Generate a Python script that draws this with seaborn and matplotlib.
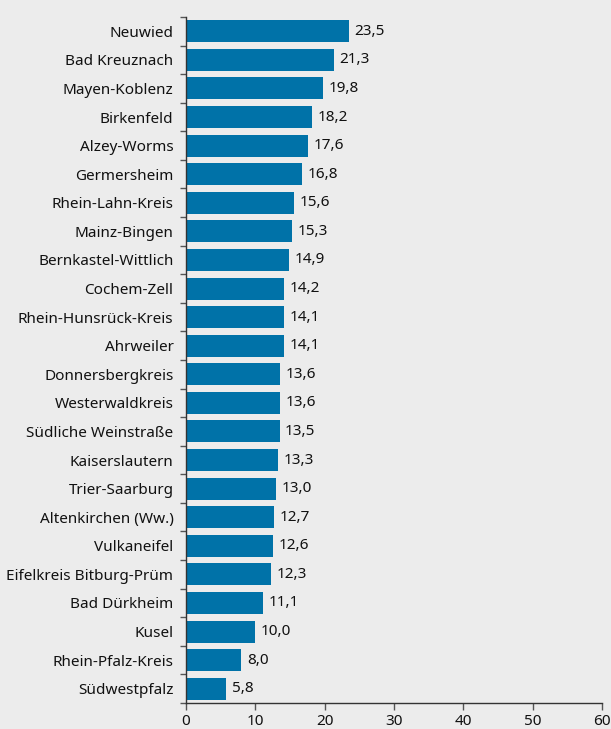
import numpy as np
import pandas as pd
import matplotlib
matplotlib.use("Agg")
import matplotlib.pyplot as plt
import seaborn as sns

kreise = [
    "Neuwied", "Bad Kreuznach", "Mayen-Koblenz", "Birkenfeld", "Alzey-Worms",
    "Germersheim", "Rhein-Lahn-Kreis", "Mainz-Bingen", "Bernkastel-Wittlich",
    "Cochem-Zell", "Rhein-Hunsrück-Kreis", "Ahrweiler", "Donnersbergkreis",
    "Westerwaldkreis", "Südliche Weinstraße", "Kaiserslautern", "Trier-Saarburg",
    "Altenkirchen (Ww.)", "Vulkaneifel", "Eifelkreis Bitburg-Prüm", "Bad Dürkheim",
    "Kusel", "Rhein-Pfalz-Kreis", "Südwestpfalz",
]
werte = [23.5, 21.3, 19.8, 18.2, 17.6, 16.8, 15.6, 15.3, 14.9, 14.2, 14.1, 14.1,
         13.6, 13.6, 13.5, 13.3, 13.0, 12.7, 12.6, 12.3, 11.1, 10.0, 8.0, 5.8]
x_ticks = [0, 10, 20, 30, 40, 50, 60]

df = pd.DataFrame({"Kreis": kreise, "Wert": werte})

bg = "#ececec"
bar_color = "#0072a8"
txt = "#111111"

sns.set_style("white")
plt.rcParams["font.family"] = ["Noto Sans", "DejaVu Sans"]

fig = plt.figure(figsize=(6.11, 7.29), dpi=100, facecolor=bg)
ax = fig.add_axes([0.3044, 0.0357, 0.6809, 0.941])
ax.set_facecolor(bg)

sns.barplot(data=df, x="Wert", y="Kreis", orient="h", color=bar_color,
            saturation=1, width=0.77, linewidth=0, ax=ax)

for i, v in enumerate(werte):
    ax.text(v + 0.8, i, f"{v:.1f}".replace(".", ","), va="center", ha="left",
            fontsize=11, color=txt)

ax.set_xlim(0, 60)
ax.set_ylim(len(kreise) - 0.5, -0.5)
ax.set_xticks(x_ticks)
ax.set_xticklabels([str(t) for t in x_ticks])
ax.set_yticks(np.arange(-0.5, len(kreise), 1), minor=True)
ax.tick_params(axis="y", which="major", length=0, labelsize=11, pad=9,
               colors=txt)
ax.tick_params(axis="y", which="minor", length=4, width=1, color="#555555",
               left=True)
ax.tick_params(axis="x", which="major", length=5, width=1, color="#555555",
               labelsize=11, bottom=True, labelcolor=txt, pad=3)
ax.set_xlabel("")
ax.set_ylabel("")

for s in ["top", "right"]:
    ax.spines[s].set_visible(False)
for s in ["left", "bottom"]:
    ax.spines[s].set_color("#333333")
    ax.spines[s].set_linewidth(1)

fig.savefig("out.png", dpi=100, facecolor=bg)
